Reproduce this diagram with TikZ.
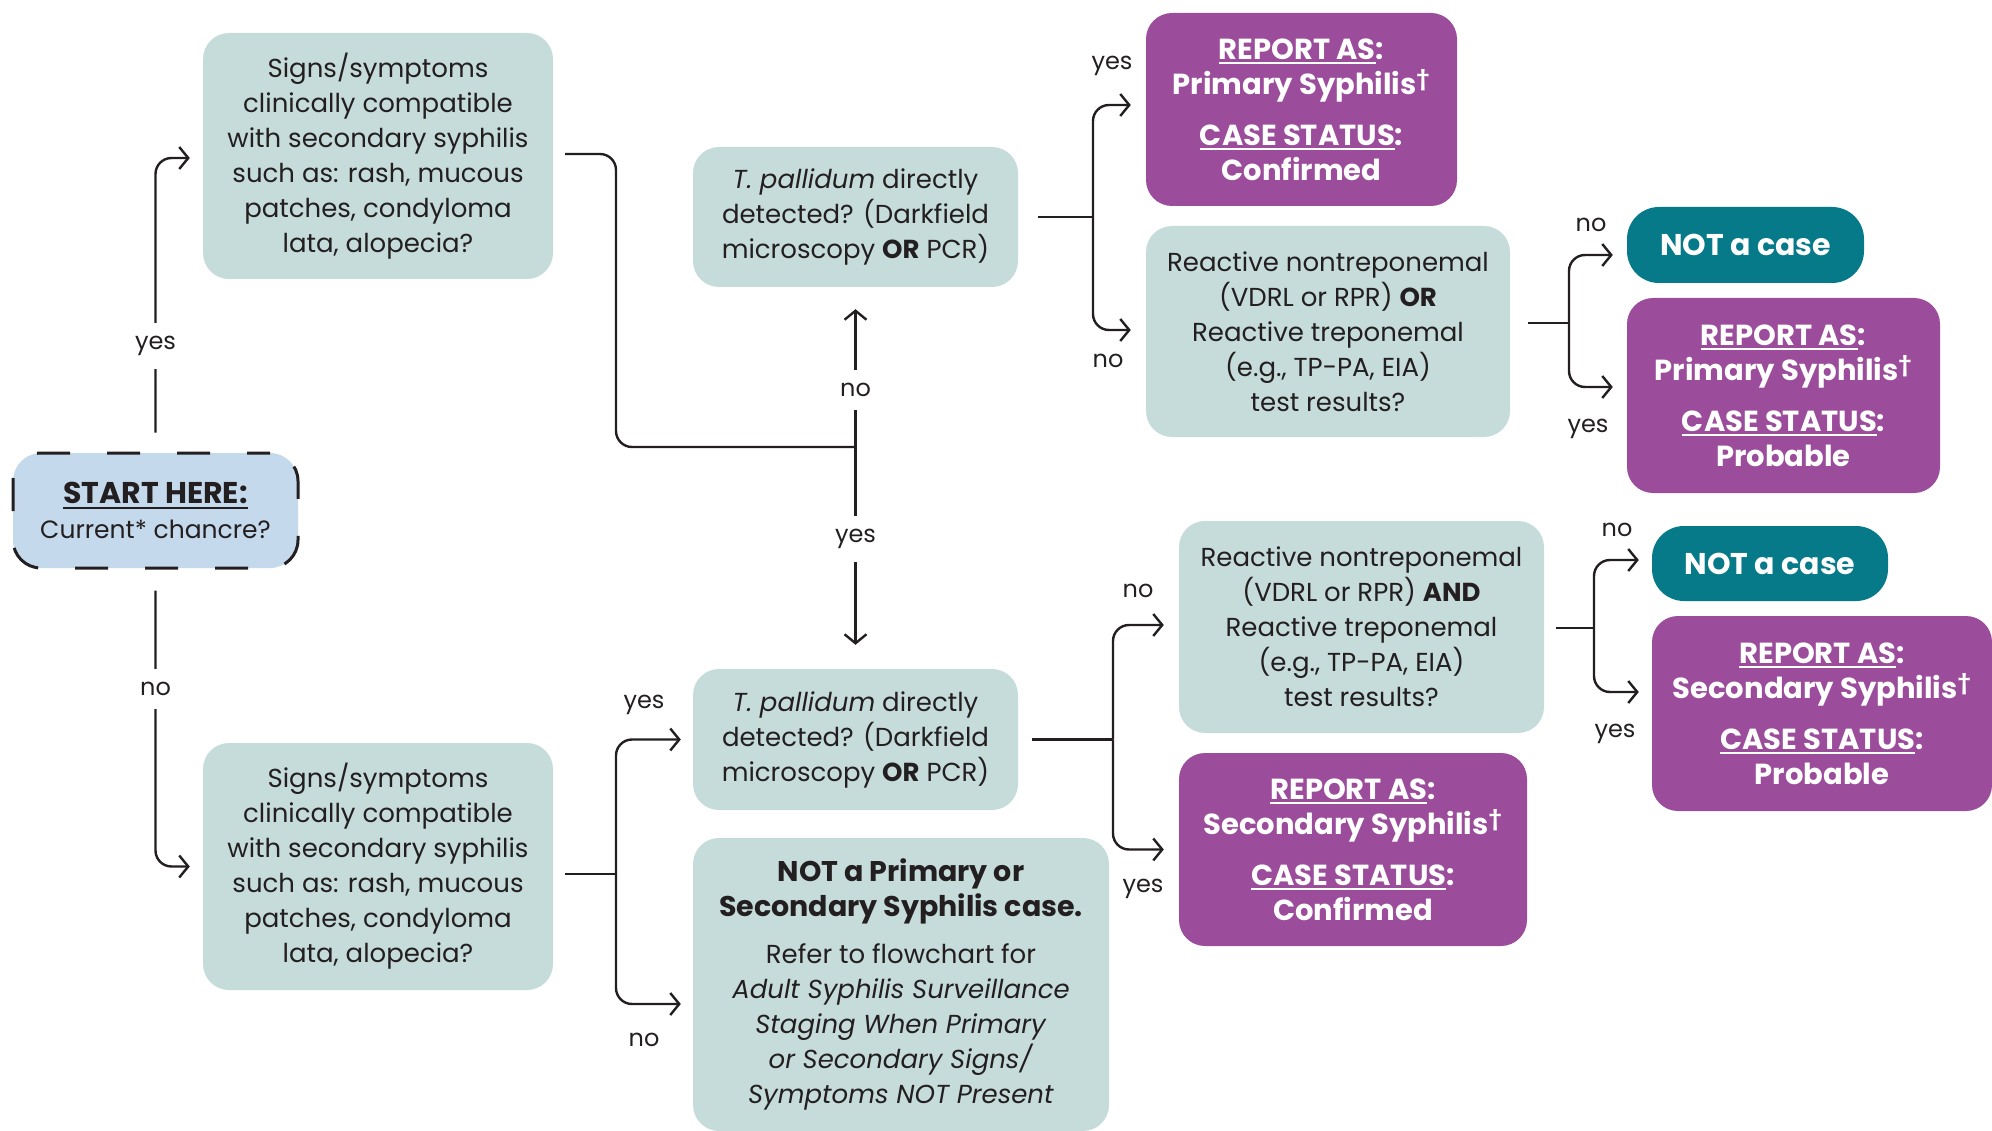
\documentclass[tikz,border=0pt]{standalone}
\usepackage{fontspec}
\setmainfont{Poppins}
\usetikzlibrary{arrows.meta}
\definecolor{boxg}{HTML}{C6DCDA}
\definecolor{purp}{HTML}{9B4D9B}
\definecolor{tealc}{HTML}{067A89}
\definecolor{startb}{HTML}{C5D9EC}
\definecolor{ink}{HTML}{231F20}
\newcommand\ulx[1]{\setbox0\hbox{#1}\rlap{\rule[-5pt]{\wd0}{2pt}}#1}
\newcommand\bigb[1]{{\fontsize{28.5}{35}\selectfont\bfseries #1}}
\tikzset{
  qbox/.style={fill=boxg, rounded corners=26pt, align=center, text=ink, inner sep=0pt,
    font=\fontsize{26}{35}\selectfont},
  pbox/.style={fill=purp, rounded corners=26pt, align=center, text=white, inner sep=0pt,
    font=\fontsize{29}{35}\selectfont\bfseries},
  nbox/.style={fill=tealc, rounded corners=32pt, align=center, text=white, inner sep=0pt,
    font=\fontsize{30}{35}\selectfont\bfseries},
  sbox/.style={fill=startb, draw=ink, line width=3pt, dash pattern=on 33pt off 37pt, dash phase=10pt,
    rounded corners=28pt, align=center, text=ink, inner sep=0pt, font=\fontsize{25}{35}\selectfont},
  lbl/.style={font=\fontsize{24}{30}\selectfont, text=ink, inner sep=2pt},
  wlbl/.style={lbl, fill=white, inner xsep=4pt, inner ysep=13pt},
  conn/.style={draw=ink, line width=2.4pt, rounded corners=16pt},
  arr/.style={conn, -{Straight Barb[length=9pt,width=22pt]}},
}
\begin{document}
\begin{tikzpicture}[x=1pt,y=-1pt]
\useasboundingbox (0,0) rectangle (1992,1131);
% nodes
\node[sbox, minimum width=285pt, minimum height=115pt] (start) at (155.5,510.5)
  {{\fontsize{30}{35}\selectfont\bfseries\ulx{START HERE:}}\\Current* chancre?};
\node[qbox, minimum width=350pt, minimum height=246pt] (sig1) at (378,156)
  {Signs/symptoms\\clinically compatible\\with secondary syphilis\\such as: rash, mucous\\patches, condyloma\\lata, alopecia?};
\node[qbox, minimum width=350pt, minimum height=247pt] (sig2) at (378,866.5)
  {Signs/symptoms\\clinically compatible\\with secondary syphilis\\such as: rash, mucous\\patches, condyloma\\lata, alopecia?};
\node[qbox, minimum width=325pt, minimum height=140pt] (tp1) at (855.5,217)
  {\textit{T. pallidum} directly\\detected? (Darkfield\\microscopy \textbf{OR} PCR)};
\node[qbox, minimum width=325pt, minimum height=141pt] (tp2) at (855.5,739.5)
  {\textit{T. pallidum} directly\\detected? (Darkfield\\microscopy \textbf{OR} PCR)};
\node[qbox, minimum width=416pt, minimum height=293pt] (notps) at (901,984.5)
  {\bigb{NOT a Primary or}\\\bigb{Secondary Syphilis case.}\\[12pt]Refer to flowchart for\\\textit{Adult Syphilis Surveillance}\\\textit{Staging When Primary}\\\textit{or Secondary Signs/}\\\textit{Symptoms NOT Present}};
\node[pbox, minimum width=311pt, minimum height=193pt] (rep1) at (1301.5,109.5)
  {\ulx{REPORT AS}:\\Primary Syphilis\textsuperscript{†}\\[16pt]\ulx{CASE STATUS}:\\Confirmed};
\node[qbox, minimum width=364pt, minimum height=211pt] (reac1) at (1328,331.5)
  {Reactive nontreponemal\\(VDRL or RPR) \textbf{OR}\\Reactive treponemal\\(e.g., TP-PA, EIA)\\test results?};
\node[nbox, minimum width=237pt, minimum height=76pt] (nc1) at (1745.5,245) {NOT a case};
\node[pbox, minimum width=313pt, minimum height=195pt] (rep2) at (1783.5,395.5)
  {\ulx{REPORT AS}:\\Primary Syphilis\textsuperscript{†}\\[16pt]\ulx{CASE STATUS}:\\Probable};
\node[qbox, minimum width=365pt, minimum height=212pt] (reac2) at (1361.5,627)
  {Reactive nontreponemal\\(VDRL or RPR) \textbf{AND}\\Reactive treponemal\\(e.g., TP-PA, EIA)\\test results?};
\node[pbox, minimum width=348pt, minimum height=193pt] (rep3) at (1353,849.5)
  {\ulx{REPORT AS}:\\Secondary Syphilis\textsuperscript{†}\\[16pt]\ulx{CASE STATUS}:\\Confirmed};
\node[nbox, minimum width=236pt, minimum height=75pt] (nc2) at (1770,563.5) {NOT a case};
\node[pbox, minimum width=340pt, minimum height=195pt] (rep4) at (1822,713.5)
  {\ulx{REPORT AS}:\\Secondary Syphilis\textsuperscript{†}\\[16pt]\ulx{CASE STATUS}:\\Probable};
% junctions
\coordinate (c1) at (616,447);
\coordinate (j1) at (855.5,447);
\coordinate (j2) at (616,874);
\coordinate (j3) at (1093,217);
\coordinate (j4) at (1569,323);
\coordinate (j5) at (1113,739.5);
\coordinate (j6) at (1594,628);
% connectors
\draw[arr] ([yshift=19pt]start.north) |- ([xshift=-13pt,yshift=-2pt]sig1.west);
\node[wlbl] at (155.5,346) {yes};
\draw[arr] ([yshift=-21pt]start.south) |- ([xshift=-13pt]sig2.west);
\node[wlbl] at (155.5,689) {no};
\draw[conn] ([xshift=12pt,yshift=2pt]sig1.east) -| (c1) -- (j1);
\draw[arr] (j1) -- ([yshift=-22pt]tp1.south);
\draw[arr] (j1) -- ([yshift=24pt]tp2.north);
\node[wlbl] at (855.5,390) {no};
\node[wlbl] at (855.5,539) {yes};
\draw[conn] ([xshift=12pt,yshift=-7.5pt]sig2.east) -- (j2);
\draw[arr] (j2) |- ([xshift=-12pt]tp2.west);
\draw[arr] (j2) |- ([xshift=-12pt,yshift=-19.5pt]notps.west);
\node[lbl] at (644,705) {yes};
\node[lbl] at (644,1040) {no};
\draw[conn] ([xshift=20pt]tp1.east) -- (j3);
\draw[arr] (j3) |- ([xshift=-15pt,yshift=4.5pt]rep1.west);
\draw[arr] (j3) |- ([xshift=-15pt,yshift=1.5pt]reac1.west);
\node[lbl] at (1112,66) {yes};
\node[lbl] at (1108,361) {no};
\draw[conn] ([xshift=18pt,yshift=8.5pt]reac1.east) -- (j4);
\draw[arr] (j4) |- ([xshift=-14pt,yshift=-10pt]nc1.west);
\draw[arr] (j4) |- ([xshift=-14pt,yshift=8.5pt]rep2.west);
\node[lbl] at (1591,225) {no};
\node[lbl] at (1588,429) {yes};
\draw[conn] ([xshift=14pt]tp2.east) -- (j5);
\draw[arr] (j5) |- ([xshift=-15pt,yshift=2pt]reac2.west);
\draw[arr] (j5) |- ([xshift=-15pt]rep3.west);
\node[lbl] at (1138,591) {no};
\node[lbl] at (1143,889) {yes};
\draw[conn] ([xshift=12pt,yshift=-1pt]reac2.east) -- (j6);
\draw[arr] (j6) |- ([xshift=-13pt,yshift=3.5pt]nc2.west);
\draw[arr] (j6) |- ([xshift=-13pt,yshift=21.5pt]rep4.west);
\node[lbl] at (1617,530) {no};
\node[lbl] at (1615,734) {yes};
\end{tikzpicture}
\end{document}
